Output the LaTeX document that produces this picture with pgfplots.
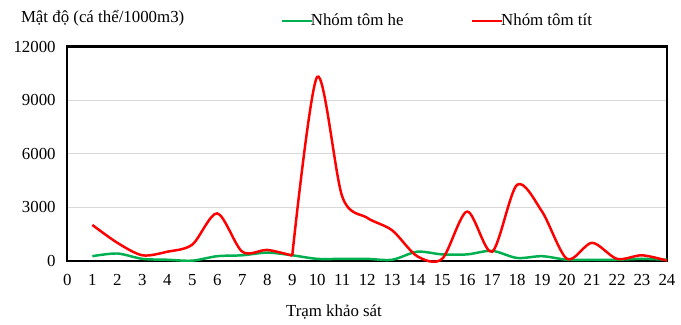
\documentclass[border=0pt]{standalone}
\usepackage{pgfplots}
\pgfplotsset{compat=1.18}
\usepackage{fontspec}
\setmainfont{Liberation Serif}
\definecolor{exgreen}{HTML}{00B050}
\definecolor{gridgray}{HTML}{D9D9D9}
\newcommand{\chartfont}{\fontsize{17}{20}\selectfont}
\begin{document}
\chartfont
\begin{tikzpicture}[font=\chartfont]
\begin{axis}[
  scale only axis,
  width=605pt, height=216pt,
  xmin=0, xmax=24, ymin=0, ymax=12000,
  xtick={0,1,...,24},
  ytick={0,3000,6000,9000,12000},
  /pgf/number format/assume math mode=true,
  scaled y ticks=false,
  yticklabel style={/pgf/number format/fixed,/pgf/number format/1000 sep={}},
  tick label style={font=\chartfont},
  major tick length=0pt,
  ymajorgrids,
  grid style={gridgray, line width=1pt},
  axis line style={black, line width=2.2pt},
  xticklabel style={yshift=-8pt},
  yticklabel style={xshift=-6pt},
  clip=false,
  legend columns=2,
  legend style={at={(axis description cs:0.3554,1.1204)}, anchor=west, draw=none, fill=none, inner sep=0pt,
    font=\chartfont, /tikz/every even column/.append style={column sep=66pt}},
  legend image code/.code={\draw[#1, line width=2.5pt] (0pt,0pt) -- (30pt,0pt);},
  legend cell align=left,
]
\addplot[exgreen, line width=2.5pt, smooth] coordinates {
(1,250) (2,400) (3,100) (4,50) (5,0) (6,250) (7,300) (8,450) (9,300) (10,100) (11,100) (12,100)
(13,50) (14,500) (15,350) (16,350) (17,550) (18,150) (19,250) (20,50) (21,50) (22,50) (23,100) (24,50)};
\addlegendentry{\hspace{-4pt}Nhóm tôm he}
\addplot[red, line width=2.5pt, smooth, forget plot] coordinates {
(1,2000) (2,1000) (3,300) (4,500) (5,900) (6,2650) (7,500) (8,600) (9,280)};
\addplot[red, line width=2.5pt, smooth] coordinates {
(9,280) (10,10300) (11,3600) (12,2400)
(13,1700) (14,250) (15,100) (16,2750) (17,500) (18,4250) (19,2750) (20,100) (21,1000) (22,100) (23,300) (24,0)};
\addlegendentry{\hspace{-4pt}Nhóm tôm tít}
\end{axis}
\node[anchor=west, inner sep=0pt] at (-47pt,245pt) {Mật độ (cá thể/1000m3)};
\node[inner sep=0pt] at (269pt,-52pt) {Trạm khảo sát};
\path (-68pt,-64pt) rectangle (613pt,263pt);
\end{tikzpicture}
\end{document}
